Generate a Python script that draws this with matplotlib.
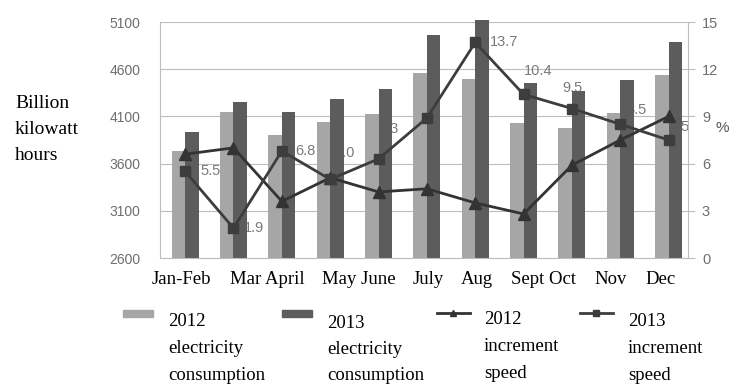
import numpy as np
import matplotlib.pyplot as plt
from matplotlib.lines import Line2D
from matplotlib.patches import Rectangle


# ==========================================================
# DATOS
# ==========================================================

meses = ["Jan-Feb", "Mar", "Apr", "May", "Jun", "Jul",
         "Aug", "Sep", "Oct", "Nov", "Dec"]

consumo_2012 = [3730, 4150, 3900, 4045, 4125, 4560,
                4495, 4035, 3980, 4135, 4540]
consumo_2013 = [3940, 4250, 4150, 4280, 4390, 4960,
                5120, 4455, 4370, 4485, 4885]

velocidad_2012 = [6.6, 7.0, 3.6, 5.1, 4.2, 4.4, 3.5, 2.8, 5.9, 7.5, 9.0]
velocidad_2013 = [5.5, 1.9, 6.8, 5.0, 6.3, 8.9, 13.7, 10.4, 9.5, 8.5, 7.5]

etiquetas_x = ["Jan-Feb", "Mar April", "May June", "July", "Aug",
               "Sept Oct", "Nov", "Dec"]

# posiciones (en unidades de categoria) de las etiquetas del eje x
pos_etiquetas_x = [-0.08, 1.69, 3.6, 5.02, 6.03, 7.42, 8.81, 9.83]

# desplazamiento de las etiquetas de valor (pixeles)
desplaz = [(15, 0), (10, 0), (13, 0), (4, 26), (0, 30), (-14, 29),
           (15, 0), (0, 23), (-10, 21), (6, 14), (1, 13)]

SERIF = "Liberation Serif"
SANS = "Liberation Sans"
C12 = "#a6a6a6"
C13 = "#5c5c5c"
GRIS = "#6e6e6e"

W, H = 732, 386
BASE = 2600


def fx(px):
    return px / W


def fy(py):
    return 1 - py / H


# ==========================================================
# FIGURA
# ==========================================================

fig = plt.figure(figsize=(7.32, 3.86), dpi=100)
ax = fig.add_axes([fx(160), fy(258), fx(688) - fx(160), fy(22) - fy(258)])
ax2 = ax.twinx()

x = np.arange(len(meses))
ancho = 0.28

ax.bar(x - ancho / 2, np.array(consumo_2012) - BASE, bottom=BASE,
       width=ancho, color=C12, zorder=2)
ax.bar(x + ancho / 2, np.array(consumo_2013) - BASE, bottom=BASE,
       width=ancho, color=C13, zorder=2, clip_on=False)

ax.set_ylim(BASE, 5100)
ax.set_yticks(np.arange(BASE, 5101, 500))
ax.set_xlim(-0.52, 10.4)
ax.set_axisbelow(True)
ax.grid(axis="y", color="#bdbdbd", linewidth=0.8)

ax.set_xticks(pos_etiquetas_x, etiquetas_x)
ax.tick_params(axis="x", length=0, pad=9, labelsize=13.5)
for t in ax.get_xticklabels():
    t.set_fontfamily(SERIF)

ax.tick_params(axis="y", length=0, pad=14, labelsize=10, labelcolor=GRIS)
for t in ax.get_yticklabels():
    t.set_fontfamily(SANS)

for s in ["top", "right"]:
    ax.spines[s].set_visible(False)
ax.spines["left"].set_color("#bdbdbd")
ax.spines["bottom"].set_color("#bdbdbd")

# lineas de velocidad
ax2.plot(x, velocidad_2012, color="#333333", linewidth=2,
         marker="^", markersize=8.5, zorder=3)
ax2.plot(x, velocidad_2013, color="#3d3d3d", linewidth=2,
         marker="s", markersize=6.5, zorder=3)

ax2.set_ylim(0, 15)
ax2.set_yticks(np.arange(0, 16, 3))
ax2.tick_params(axis="y", length=5, color="#bdbdbd", pad=5,
                labelsize=10.5, labelcolor=GRIS)
for t in ax2.get_yticklabels():
    t.set_fontfamily(SANS)
for s in ["top", "left", "bottom"]:
    ax2.spines[s].set_visible(False)
ax2.spines["right"].set_color("#bdbdbd")

# etiquetas de valor (debajo de las barras)
for i, v in enumerate(velocidad_2013):
    ax.annotate(f"{v:.1f}", xy=(i, v), xycoords=ax2.transData,
                xytext=desplaz[i], textcoords="offset pixels",
                ha="left", va="center", fontsize=10.5, color="#7a7a7a",
                family=SANS, zorder=1.5)

# textos laterales
for k, linea in enumerate(["Billion", "kilowatt", "hours"]):
    fig.text(fx(15), fy(103 + 26.5 * k), linea, family=SERIF,
             fontsize=14, va="center", ha="left")

fig.text(fx(715), fy(128), "%", family=SANS, fontsize=11,
         color="#555555", va="center", ha="left")

# ==========================================================
# LEYENDA
# ==========================================================

fig.add_artist(Rectangle((fx(123), fy(317)), fx(153) - fx(123),
                         fy(310) - fy(317), color=C12,
                         transform=fig.transFigure))
fig.add_artist(Rectangle((fx(282), fy(317)), fx(312) - fx(282),
                         fy(310) - fy(317), color=C13,
                         transform=fig.transFigure))
fig.add_artist(Line2D([fx(437), fx(470)], [fy(313), fy(313)],
                      color="#333333", linewidth=2,
                      transform=fig.transFigure))
fig.add_artist(Line2D([fx(453)], [fy(313)], marker="^", markersize=5,
                      color="#333333", transform=fig.transFigure))
fig.add_artist(Line2D([fx(580), fx(613)], [fy(313), fy(313)],
                      color="#3d3d3d", linewidth=2,
                      transform=fig.transFigure))
fig.add_artist(Line2D([fx(596)], [fy(313)], marker="s", markersize=4.5,
                      color="#3d3d3d", transform=fig.transFigure))

textos_leyenda = [
    ["2012", "electricity", "consumption"],
    ["2013", "electricity", "consumption"],
    ["2012", "increment", "speed"],
    ["2013", "increment", "speed"],
]
x_leyenda = [168, 327, 484, 628]
y_leyenda = [322, 323, 320, 322]

for lineas, xl, yl in zip(textos_leyenda, x_leyenda, y_leyenda):
    for k, linea in enumerate(lineas):
        fig.text(fx(xl), fy(yl + 26.5 * k), linea, family=SERIF,
                 fontsize=13.5, va="center", ha="left")

fig.savefig("out.png", dpi=100)
